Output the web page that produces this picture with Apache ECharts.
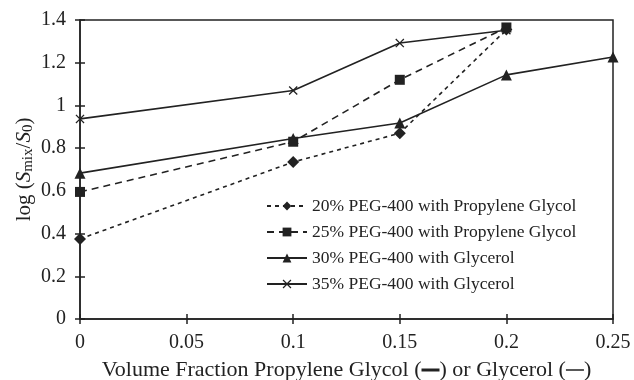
<!DOCTYPE html>
<html>
<head>
<meta charset="utf-8">
<script src="https://cdn.jsdelivr.net/npm/echarts@6/dist/echarts.min.js"></script>
<style>
	html,body{margin:0;padding:0;background:#fff}
	#chart{width:634px;height:380px}
</style>
</head>
<body>
<div id="chart"></div>
<script>
	// data
	var fraction = [0, 0.1, 0.15, 0.2, 0.25];
	var peg20 = [0.375, 0.735, 0.87, 1.355];
	var peg25 = [0.595, 0.83, 1.12, 1.365];
	var peg30 = [0.683, 0.845, 0.918, 1.143, 1.227];
	var peg35 = [0.937, 1.07, 1.292, 1.352];
	var names = [
		'20% PEG-400 with Propylene Glycol',
		'25% PEG-400 with Propylene Glycol',
		'30% PEG-400 with Glycerol',
		'35% PEG-400 with Glycerol'
	];

	var ink = '#222';
	var font = '"Liberation Serif", "DejaVu Serif", serif';
	var cross = 'path://M0,1L1,0L5,4L9,0L10,1L6,5L10,9L9,10L5,6L1,10L0,9L4,5Z';

	function pairs(vals) {
		return vals.map(function (v, i) { return [fraction[i], v]; });
	}

	function line(name, vals, symbol, size, dash) {
		return {
			name: name,
			type: 'line',
			data: pairs(vals),
			symbol: symbol,
			symbolSize: size,
			showSymbol: true,
			itemStyle: {color: ink},
			lineStyle: {color: ink, width: 1.6, type: dash},
			emphasis: {disabled: true}
		};
	}

	var myChart = echarts.init(document.getElementById('chart'));
	var option = {
		animation: false,
		textStyle: {fontFamily: font, color: ink},
		grid: {
			left: 80, right: 21, top: 20, bottom: 61,
			outerBoundsMode: 'none',
			show: true, borderColor: ink, borderWidth: 1.5
		},
		legend: {
			data: names,
			orient: 'vertical',
			left: 261,
			top: 192,
			itemWidth: 40,
			itemHeight: 11,
			itemGap: 8,
			textStyle: {fontFamily: font, fontSize: 17.5, color: ink}
		},
		xAxis: [
			{
				type: 'value', min: 0, max: 0.25, interval: 0.05,
				splitLine: {show: false},
				axisLine: {lineStyle: {color: ink, width: 1.5}},
				axisTick: {lineStyle: {color: ink, width: 1.5}, length: 5},
				axisLabel: {fontFamily: font, fontSize: 20, color: ink, margin: 14},
				name: '{t|Volume Fraction Propylene }{g|Glycol}{t| (}{b| }{t|) or Glycerol (}{d| }{t|)}',
				nameLocation: 'middle',
				nameGap: 40,
				nameMoveOverlap: false,
				nameTextStyle: {
					rich: {
						t: {fontFamily: font, fontSize: 22, color: ink},
						g: {fontFamily: font, fontSize: 22, color: ink},
						b: {width: 18, height: 3, backgroundColor: ink, fontSize: 4},
						d: {width: 18, height: 1.5, backgroundColor: ink, fontSize: 4}
					}
				}
			},
			{
				type: 'value', min: 0, max: 0.25, interval: 0.05, position: 'bottom',
				splitLine: {show: false}, axisLine: {show: false}, axisLabel: {show: false},
				axisTick: {inside: true, length: 5, lineStyle: {color: ink, width: 1.5}}
			}
		],
		yAxis: [
			{
				type: 'value', min: 0, max: 1.4, interval: 0.2,
				splitLine: {show: false},
				axisLine: {lineStyle: {color: ink, width: 1.5}},
				axisTick: {lineStyle: {color: ink, width: 1.5}, length: 5},
				axisLabel: {fontFamily: font, fontSize: 20, color: ink, margin: 14},
				name: '{n|log (}{i|S}{s|mix}{n|/}{i|S}{s|0}{n|)}',
				nameLocation: 'middle',
				nameGap: 44,
				nameMoveOverlap: false,
				nameTextStyle: {
					rich: {
						n: {fontFamily: font, fontSize: 21, color: ink},
						i: {fontFamily: font, fontSize: 21, color: ink, fontStyle: 'italic'},
						s: {fontFamily: font, fontSize: 15, color: ink, verticalAlign: 'bottom', padding: [9, 0, 0, 0]}
					}
				}
			},
			{
				type: 'value', min: 0, max: 1.4, interval: 0.2, position: 'left',
				splitLine: {show: false}, axisLine: {show: false}, axisLabel: {show: false},
				axisTick: {inside: true, length: 5, lineStyle: {color: ink, width: 1.5}}
			}
		],
		series: [
			line(names[0], peg20, 'diamond', 12, [4, 4]),
			line(names[1], peg25, 'rect', 10, [7, 5]),
			line(names[2], peg30, 'triangle', 11, 'solid'),
			line(names[3], peg35, cross, 9, 'solid')
		]
	};
	myChart.setOption(option);
</script>
</body>
</html>
